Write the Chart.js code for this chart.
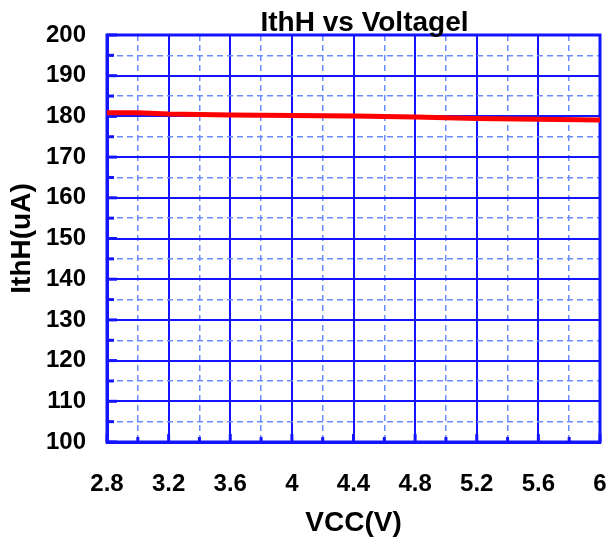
<!DOCTYPE html>
<html><head><meta charset="utf-8">
<script src="https://cdn.jsdelivr.net/npm/chart.js@4/dist/chart.umd.min.js"></script>
<style>html,body{margin:0;padding:0;background:#fff}#wrap{width:608px;height:545px;position:relative}</style>
</head><body><div id="wrap"><canvas id="c"></canvas></div>
<script>
// ---- data ----
const chartTitle = 'IthH vs Voltagel';
const xTitle = 'VCC(V)';
const yTitle = 'IthH(uA)';
const vcc = [2.8, 3.0, 3.2, 3.6, 4.0, 4.4, 4.8, 5.2, 5.6, 6.0, 6.2];
const ithH = [180.9, 180.9, 180.6, 180.35, 180.2, 180.1, 179.85, 179.5, 179.3, 179.1, 178.95];
const xMin = 2.8, xMax = 6, xMajor = 0.4, xMinor = 0.2;
const yMin = 100, yMax = 200, yMajor = 10, yMinorStep = 5;

const MAJOR = '#1414ff';
const MINOR = '#6a8cff';
const FONT = "'Liberation Sans', Arial, sans-serif";

function isMajor(v, base, step) {
  const r = (v - base) / step;
  return Math.abs(r - Math.round(r)) < 1e-6;
}

const framePlugin = {
  id: 'frame',
  beforeDatasetsDraw(chart) {
    const {ctx, chartArea: a} = chart;
    ctx.save();
    ctx.strokeStyle = MAJOR;
    ctx.lineWidth = 3;
    ctx.strokeRect(a.left, a.top, a.right - a.left, a.bottom - a.top);
    const xs = chart.scales.x2, ys = chart.scales.y2;
    xs.ticks.forEach(t => {
      const px = xs.getPixelForValue(t.value);
      const len = isMajor(t.value, xMin, xMajor) ? 8 : 5;
      ctx.beginPath(); ctx.moveTo(px, a.bottom); ctx.lineTo(px, a.bottom - len); ctx.stroke();
    });
    ys.ticks.forEach(t => {
      const py = ys.getPixelForValue(t.value);
      const len = isMajor(t.value, yMin, yMajor) ? 10 : 7;
      ctx.beginPath(); ctx.moveTo(a.left, py); ctx.lineTo(a.left + len, py); ctx.stroke();
    });
    ctx.restore();
  },
  afterDraw(chart) {
    const {ctx, chartArea: a} = chart;
    ctx.save();
    ctx.fillStyle = '#000';
    ctx.font = 'bold 28px ' + FONT;
    ctx.textAlign = 'center';
    ctx.textBaseline = 'alphabetic';
    ctx.fillText(chartTitle, (a.left + a.right) / 2 + 11, a.top - 4);
    ctx.restore();
  }
};

function fixH(h) { return s => { s.height = h; s.paddingLeft = 0; s.paddingRight = 0; }; }
function fixW(w) { return s => { s.width = w; s.paddingTop = 0; s.paddingBottom = 0; }; }

new Chart(document.getElementById('c'), {
  type: 'line',
  data: {
    datasets: [{
      data: vcc.map((x, i) => ({x, y: ithH[i]})),
      borderColor: '#ff0000',
      borderWidth: 5,
      pointRadius: 0,
      tension: 0,
      fill: false,
      clip: false
    }]
  },
  options: {
    responsive: true,
    maintainAspectRatio: false,
    animation: false,
    layout: {padding: {left: 0, right: 8, top: 35, bottom: 0}},
    plugins: {legend: {display: false}, tooltip: {enabled: false}, title: {display: false}},
    scales: {
      x: {
        type: 'linear', position: 'bottom', min: xMin, max: xMax,
        afterFit: fixH(103),
        ticks: {stepSize: xMajor, color: '#000', padding: 28, font: {family: FONT, size: 24, weight: 'bold'},
          callback: v => String(Math.round(v * 10) / 10)},
        grid: {color: MAJOR, lineWidth: 2, drawTicks: false},
        border: {display: true, color: MAJOR, width: 3},
        title: {display: true, text: xTitle, color: '#000', font: {family: FONT, size: 28, weight: 'bold', lineHeight: 1.2}, padding: {top: 0, bottom: 5}}
      },
      x2: {
        type: 'linear', position: 'bottom', min: xMin, max: xMax,
        afterFit: fixH(0),
        ticks: {display: false, stepSize: xMinor},
        grid: {drawTicks: false, lineWidth: 1.5, color: c => isMajor(c.tick.value, xMin, xMajor) ? 'rgba(0,0,0,0)' : MINOR},
        border: {display: false, dash: [6, 4]}
      },
      y: {
        type: 'linear', position: 'left', min: yMin, max: yMax,
        afterFit: fixW(107),
        ticks: {stepSize: yMajor, color: '#000', padding: 21, font: {family: FONT, size: 24, weight: 'bold'}},
        grid: {color: MAJOR, lineWidth: 2, drawTicks: false},
        border: {display: true, color: MAJOR, width: 3},
        title: {display: true, text: yTitle, color: '#000', font: {family: FONT, size: 28, weight: 'bold', lineHeight: 1.2}, padding: {top: 5, bottom: 0}}
      },
      y2: {
        type: 'linear', position: 'left', min: yMin, max: yMax,
        afterFit: fixW(0),
        ticks: {display: false, stepSize: yMinorStep},
        grid: {drawTicks: false, lineWidth: 1.5, color: c => isMajor(c.tick.value, yMin, yMajor) ? 'rgba(0,0,0,0)' : MINOR},
        border: {display: false, dash: [6, 4]}
      }
    }
  },
  plugins: [framePlugin]
});
</script>
</body></html>
